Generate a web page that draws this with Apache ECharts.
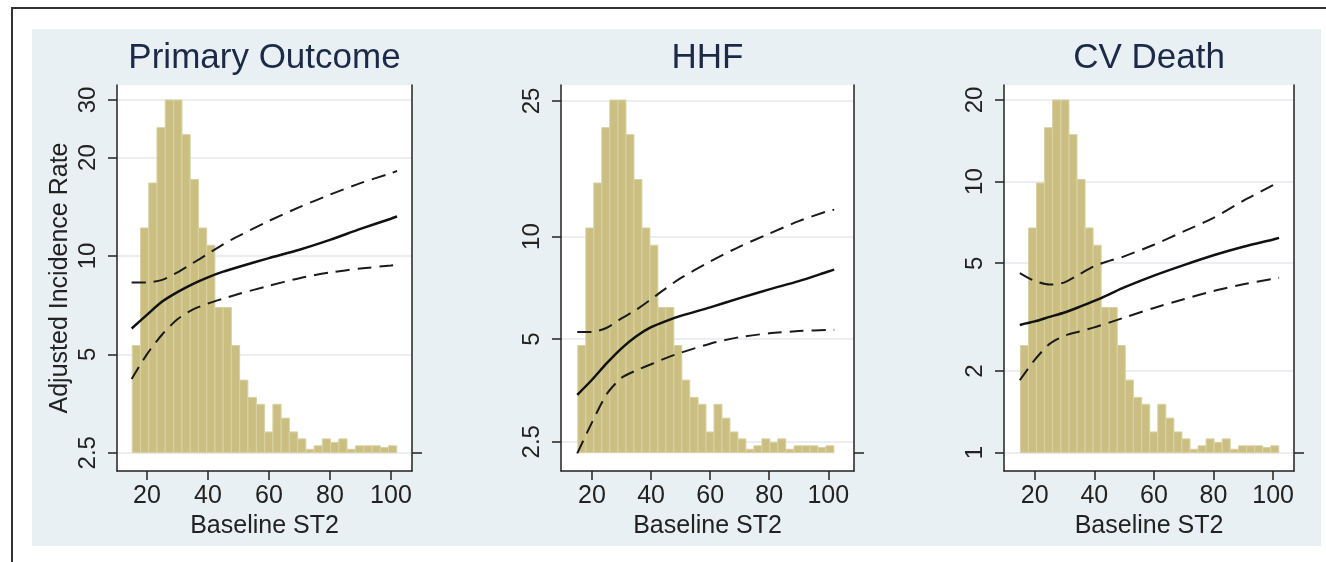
<!DOCTYPE html>
<html>
<head>
<meta charset="utf-8">
<script src="https://cdn.jsdelivr.net/npm/echarts@6/dist/echarts.min.js"></script>
<style>
html,body{margin:0;padding:0;background:#fff;}
#c{width:1326px;height:562px;}
</style>
</head>
<body>
<div id="c"></div>
<script>
// ---------- data ----------
const panelTitles = ['Primary Outcome', 'HHF', 'CV Death'];
const xTicks = [20, 40, 60, 80, 100];
const yTicksPrimary = [2.5, 5, 10, 20, 30];
const yTicksHHF = [2.5, 5, 10, 25];
const yTicksCV = [1, 2, 5, 10, 20];

// histogram of baseline ST2 (percent of patients per bin)
const binEdges = [15.2, 17.9, 20.6, 23.3, 26.0, 28.8, 31.5, 34.2, 36.9, 39.6, 42.3,
  45.0, 47.7, 50.4, 53.1, 55.9, 58.6, 61.3, 64.0, 66.7, 69.4, 72.1, 74.8, 77.5,
  80.2, 82.9, 85.6, 88.4, 91.1, 93.8, 96.5, 99.2, 101.9];
const histPct = [3.1, 6.5, 7.8, 9.4, 10.2, 10.2, 9.2, 7.9, 6.5, 6.0, 4.2, 4.2, 3.1,
  2.1, 1.6, 1.4, 0.6, 1.4, 1.0, 0.6, 0.4, 0.1, 0.2, 0.4, 0.3, 0.4, 0.1, 0.2, 0.2,
  0.2, 0.15, 0.2];

// adjusted incidence rate curves
const curveX = [15, 20, 25, 30, 35, 40, 45, 50, 60, 70, 80, 90, 100, 102];
const primaryEst   = [6.0, 6.6, 7.25, 7.75, 8.2, 8.6, 8.95, 9.25, 9.85, 10.45, 11.2, 12.1, 13.0, 13.2];
const primaryUpper = [8.3, 8.3, 8.45, 8.9, 9.5, 10.15, 10.85, 11.5, 12.8, 14.1, 15.4, 16.7, 17.9, 18.2];
const primaryLower = [4.2, 5.0, 5.75, 6.4, 6.85, 7.15, 7.4, 7.65, 8.1, 8.55, 8.9, 9.15, 9.35, 9.4];
const hhfEst   = [3.43, 3.8, 4.25, 4.7, 5.1, 5.42, 5.65, 5.85, 6.2, 6.6, 7.0, 7.4, 7.9, 8.0];
const hhfUpper = [5.25, 5.25, 5.4, 5.75, 6.1, 6.55, 7.05, 7.55, 8.45, 9.35, 10.2, 11.1, 11.9, 12.0];
const hhfLower = [2.31, 2.85, 3.45, 3.85, 4.05, 4.22, 4.4, 4.56, 4.85, 5.07, 5.2, 5.28, 5.32, 5.33];
const cvEst   = [2.96, 3.05, 3.17, 3.29, 3.45, 3.63, 3.84, 4.07, 4.5, 4.92, 5.35, 5.75, 6.12, 6.2];
const cvUpper = [4.6, 4.3, 4.17, 4.25, 4.55, 4.88, 5.1, 5.3, 5.85, 6.55, 7.35, 8.5, 9.7, 10.0];
const cvLower = [1.85, 2.2, 2.52, 2.7, 2.8, 2.9, 3.02, 3.15, 3.42, 3.68, 3.95, 4.18, 4.38, 4.42];

// ---------- layout / style ----------
const FONT = 'Liberation Sans, Arial, Helvetica, sans-serif';
const AXIS_COLOR = '#222';
const panels = [
  {left: 117, width: 295, xMin: 10.2, xMax: 106.9, yMin: 2.198, yMax: 33.34, yTicks: yTicksPrimary,
   est: primaryEst, up: primaryUpper, lo: primaryLower, yName: 'Adjusted Incidence Rate'},
  {left: 561, width: 293, xMin: 9.5, xMax: 108.7, yMin: 2.051, yMax: 27.86, yTicks: yTicksHHF,
   est: hhfEst, up: hhfUpper, lo: hhfLower, yName: ''},
  {left: 1004, width: 290, xMin: 9.7, xMax: 107.0, yMin: 0.856, yMax: 22.72, yTicks: yTicksCV,
   est: cvEst, up: cvUpper, lo: cvLower, yName: ''}
];
const GRID_TOP = 85, GRID_H = 386;
const HIST_MIN = -0.529, HIST_MAX = 10.634;

const grids = [], xAxes = [], yAxes = [], series = [], titles = [];
panels.forEach((p, i) => {
  grids.push({left: p.left, top: GRID_TOP, width: p.width, height: GRID_H,
    show: true, backgroundColor: '#ffffff', borderWidth: 0, containLabel: false});
  titles.push({text: panelTitles[i], left: p.left + p.width / 2, top: 41, textAlign: 'center', padding: 0,
    textStyle: {fontFamily: FONT, fontSize: 35, fontWeight: 'normal', color: '#1c2a48'}});
  xAxes.push({type: 'value', gridIndex: i, min: p.xMin, max: p.xMax,
    name: 'Baseline ST2', nameLocation: 'middle', nameGap: 42,
    nameTextStyle: {fontFamily: FONT, fontSize: 25, color: '#222'},
    axisLine: {show: true, onZero: false, lineStyle: {color: AXIS_COLOR, width: 1.5}},
    axisTick: {show: true, length: 9, customValues: xTicks, lineStyle: {color: AXIS_COLOR, width: 1.5}},
    axisLabel: {customValues: xTicks, margin: 13, fontFamily: FONT, fontSize: 25, color: '#222'},
    splitLine: {show: false}});
  yAxes.push({type: 'log', logBase: 10, gridIndex: i, position: 'left', min: p.yMin, max: p.yMax,
    name: p.yName, nameLocation: 'middle', nameRotate: 90, nameGap: 44,
    nameTextStyle: {fontFamily: FONT, fontSize: 25, color: '#222'},
    axisLine: {show: true, lineStyle: {color: AXIS_COLOR, width: 1.5}},
    axisTick: {show: true, length: 9, customValues: p.yTicks, lineStyle: {color: AXIS_COLOR, width: 1.5}},
    axisLabel: {customValues: p.yTicks, rotate: 90, margin: 17, fontFamily: FONT, fontSize: 24, color: '#222'},
    splitLine: {show: true, lineStyle: {color: '#e6e9ec', width: 1.5}}});
  yAxes.push({type: 'value', gridIndex: i, position: 'right', min: HIST_MIN, max: HIST_MAX,
    axisLine: {show: true, lineStyle: {color: AXIS_COLOR, width: 1.5}},
    axisTick: {show: true, length: 10, customValues: [0], lineStyle: {color: AXIS_COLOR, width: 1.5}},
    axisLabel: {show: false, customValues: [0]},
    splitLine: {show: false}});
  series.push({
    type: 'custom', xAxisIndex: i, yAxisIndex: i * 2 + 1, z: 1,
    data: histPct.map((v, k) => [binEdges[k], binEdges[k + 1], v]),
    encode: {x: [0, 1], y: 2},
    renderItem: (params, api) => {
      const a = api.coord([api.value(0), api.value(2)]);
      const b = api.coord([api.value(1), 0]);
      return {type: 'rect', shape: {x: a[0], y: a[1], width: b[0] - a[0], height: b[1] - a[1]},
        style: {fill: '#cabf80', stroke: '#d9d2a6', lineWidth: 1}};
    }
  });
  const mk = (vals, dashed) => ({
    type: 'line', xAxisIndex: i, yAxisIndex: i * 2, z: 5, symbol: 'none', smooth: 0.25,
    data: curveX.map((x, k) => [x, vals[k]]),
    lineStyle: dashed ? {color: '#1a1a1a', width: 2, type: [14, 8]} : {color: '#111', width: 2.5, type: 'solid'}
  });
  series.push(mk(p.up, true), mk(p.est, false), mk(p.lo, true));
});

const option = {
  animation: false,
  backgroundColor: '#ffffff',
  textStyle: {fontFamily: FONT},
  title: titles,
  grid: grids, xAxis: xAxes, yAxis: yAxes, series: series,
  graphic: [
    {type: 'rect', z: -10, silent: true, shape: {x: 32, y: 29, width: 1289, height: 517}, style: {fill: '#e9f0f3'}},
    {type: 'polyline', z: -5, silent: true, shape: {points: [[12, 562], [12, 8], [1326, 8]]}, style: {stroke: '#333', lineWidth: 2, fill: null}}
  ]
};
const chart = echarts.init(document.getElementById('c'), null, {renderer: 'canvas'});
chart.setOption(option);
</script>
</body>
</html>
